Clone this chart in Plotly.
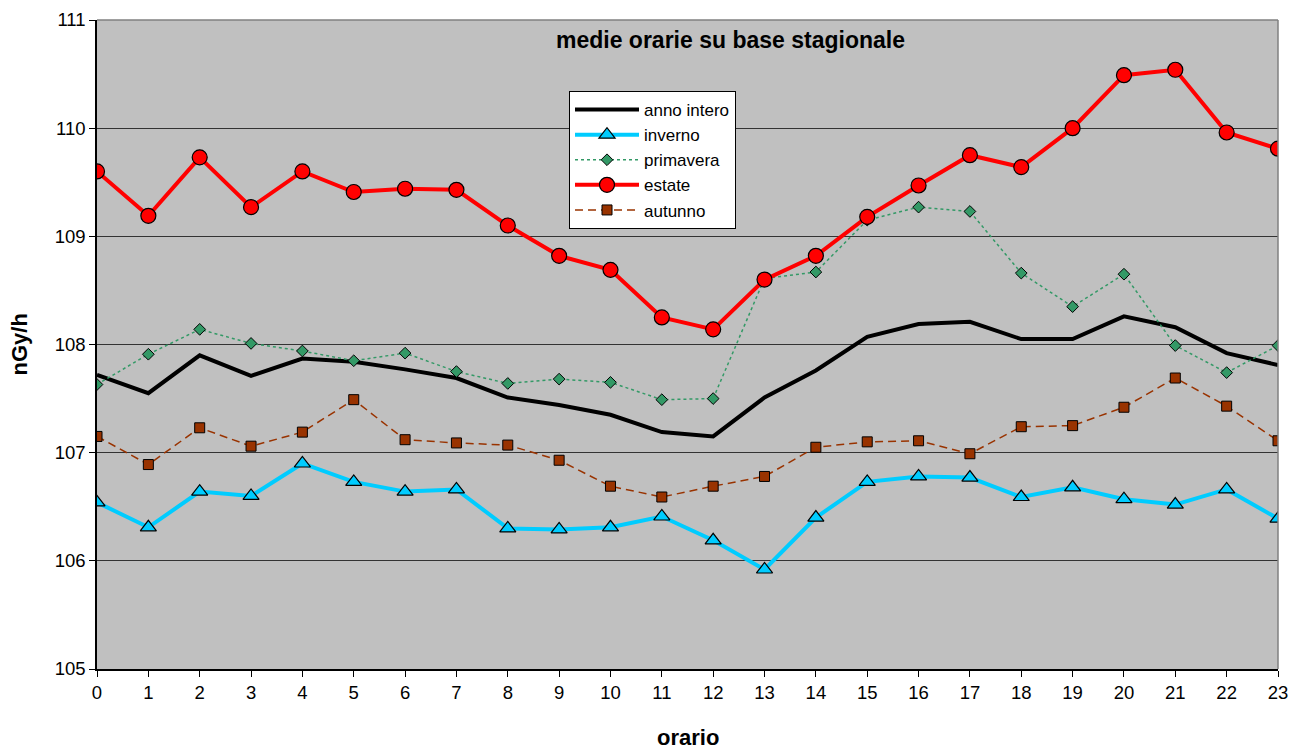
import plotly.graph_objects as go

# hourly means by season (nGy/h)
ore = list(range(24))
anno_intero = [107.72, 107.55, 107.90, 107.71, 107.87, 107.84, 107.77, 107.69, 107.51, 107.44,
               107.35, 107.19, 107.15, 107.51, 107.76, 108.07, 108.19, 108.21, 108.05, 108.05,
               108.26, 108.16, 107.92, 107.81]
inverno = [106.54, 106.31, 106.64, 106.60, 106.90, 106.73, 106.64, 106.66, 106.30, 106.29,
           106.31, 106.41, 106.19, 105.92, 106.40, 106.73, 106.78, 106.77, 106.59, 106.68,
           106.57, 106.52, 106.66, 106.39]
primavera = [107.63, 107.91, 108.14, 108.01, 107.94, 107.85, 107.92, 107.75, 107.64, 107.68,
             107.65, 107.49, 107.50, 108.61, 108.67, 109.15, 109.27, 109.23, 108.66, 108.35,
             108.65, 107.99, 107.74, 107.99]
estate = [109.60, 109.19, 109.73, 109.27, 109.60, 109.41, 109.44, 109.43, 109.10, 108.82,
          108.69, 108.25, 108.14, 108.60, 108.82, 109.18, 109.47, 109.75, 109.64, 110.00,
          110.49, 110.54, 109.96, 109.81]
autunno = [107.15, 106.89, 107.23, 107.06, 107.19, 107.49, 107.12, 107.09, 107.07, 106.93,
           106.69, 106.59, 106.69, 106.78, 107.05, 107.10, 107.11, 106.99, 107.24, 107.25,
           107.42, 107.69, 107.43, 107.11]

FONT = "Arial, Liberation Sans, sans-serif"

fig = go.Figure()
fig.add_trace(go.Scatter(x=ore, y=anno_intero, name="anno intero", mode="lines",
                         line=dict(color="black", width=4)))
fig.add_trace(go.Scatter(x=ore, y=inverno, name="inverno", mode="lines+markers",
                         line=dict(color="#00CCFF", width=4),
                         marker=dict(symbol="triangle-up", size=14, color="#00CCFF",
                                     line=dict(color="black", width=1.2))))
fig.add_trace(go.Scatter(x=ore, y=primavera, name="primavera", mode="lines+markers",
                         line=dict(color="#339966", width=1.5, dash="dot"),
                         marker=dict(symbol="diamond", size=9, color="#339966",
                                     line=dict(color="black", width=1))))
fig.add_trace(go.Scatter(x=ore, y=estate, name="estate", mode="lines+markers",
                         line=dict(color="#FF0000", width=4),
                         marker=dict(symbol="circle", size=15, color="#FF0000",
                                     line=dict(color="black", width=1.2))))
fig.add_trace(go.Scatter(x=ore, y=autunno, name="autunno", mode="lines+markers",
                         line=dict(color="#993300", width=1.5, dash="8px,5px"),
                         marker=dict(symbol="square", size=10, color="#993300",
                                     line=dict(color="black", width=1))))

fig.update_layout(
    width=1291, height=749,
    margin=dict(l=97, r=13, t=20, b=80, autoexpand=False),
    paper_bgcolor="white", plot_bgcolor="#C0C0C0",
    font=dict(family=FONT, size=18, color="black"),
    showlegend=True,
    legend=dict(x=(569 - 97) / 1181, y=(669 - 91) / 649, xanchor="left", yanchor="top",
                bgcolor="white", bordercolor="black", borderwidth=1,
                font=dict(size=17), itemwidth=64, tracegroupgap=0),
    annotations=[
        dict(text="<b>medie orarie su base stagionale</b>", x=(730 - 97) / 1181, xref="paper",
             y=(669 - 40) / 649, yref="paper", yanchor="middle", showarrow=False,
             font=dict(size=23)),
        dict(text="<b>orario</b>", x=0.5, xref="paper", y=(669 - 737) / 649, yref="paper",
             yanchor="middle", showarrow=False, font=dict(size=22)),
        dict(text="<b>nGy/h</b>", x=(19 - 97) / 1181, xref="paper", y=0.5, yref="paper",
             textangle=-90, xanchor="center", yanchor="middle", showarrow=False,
             font=dict(size=22)),
    ],
)

fig.update_xaxes(range=[0, 23], tickmode="array", tickvals=ore, showgrid=False,
                 showline=True, linecolor="black", linewidth=1.5,
                 ticks="outside", ticklen=6, tickcolor="black",
                 tickfont=dict(size=18.5), zeroline=False, automargin=False)
fig.update_yaxes(range=[105, 111], dtick=1, showgrid=True, gridcolor="#333333", gridwidth=1,
                 showline=True, linecolor="black", linewidth=1.5,
                 ticks="outside", ticklen=6, tickcolor="black",
                 tickfont=dict(size=18.5), zeroline=False, automargin=False)

# gray border on top and right of plot area
fig.add_shape(type="line", xref="paper", yref="paper", x0=0, x1=1, y0=1, y1=1,
              line=dict(color="#808080", width=1.5))
fig.add_shape(type="line", xref="paper", yref="paper", x0=1, x1=1, y0=0, y1=1,
              line=dict(color="#808080", width=1.5))

# drop the default page margin so the figure fills the window exactly
fig.write_html("out.html", config={"displayModeBar": False},
               post_script="document.body.style.margin='0';document.body.style.overflow='hidden';")
